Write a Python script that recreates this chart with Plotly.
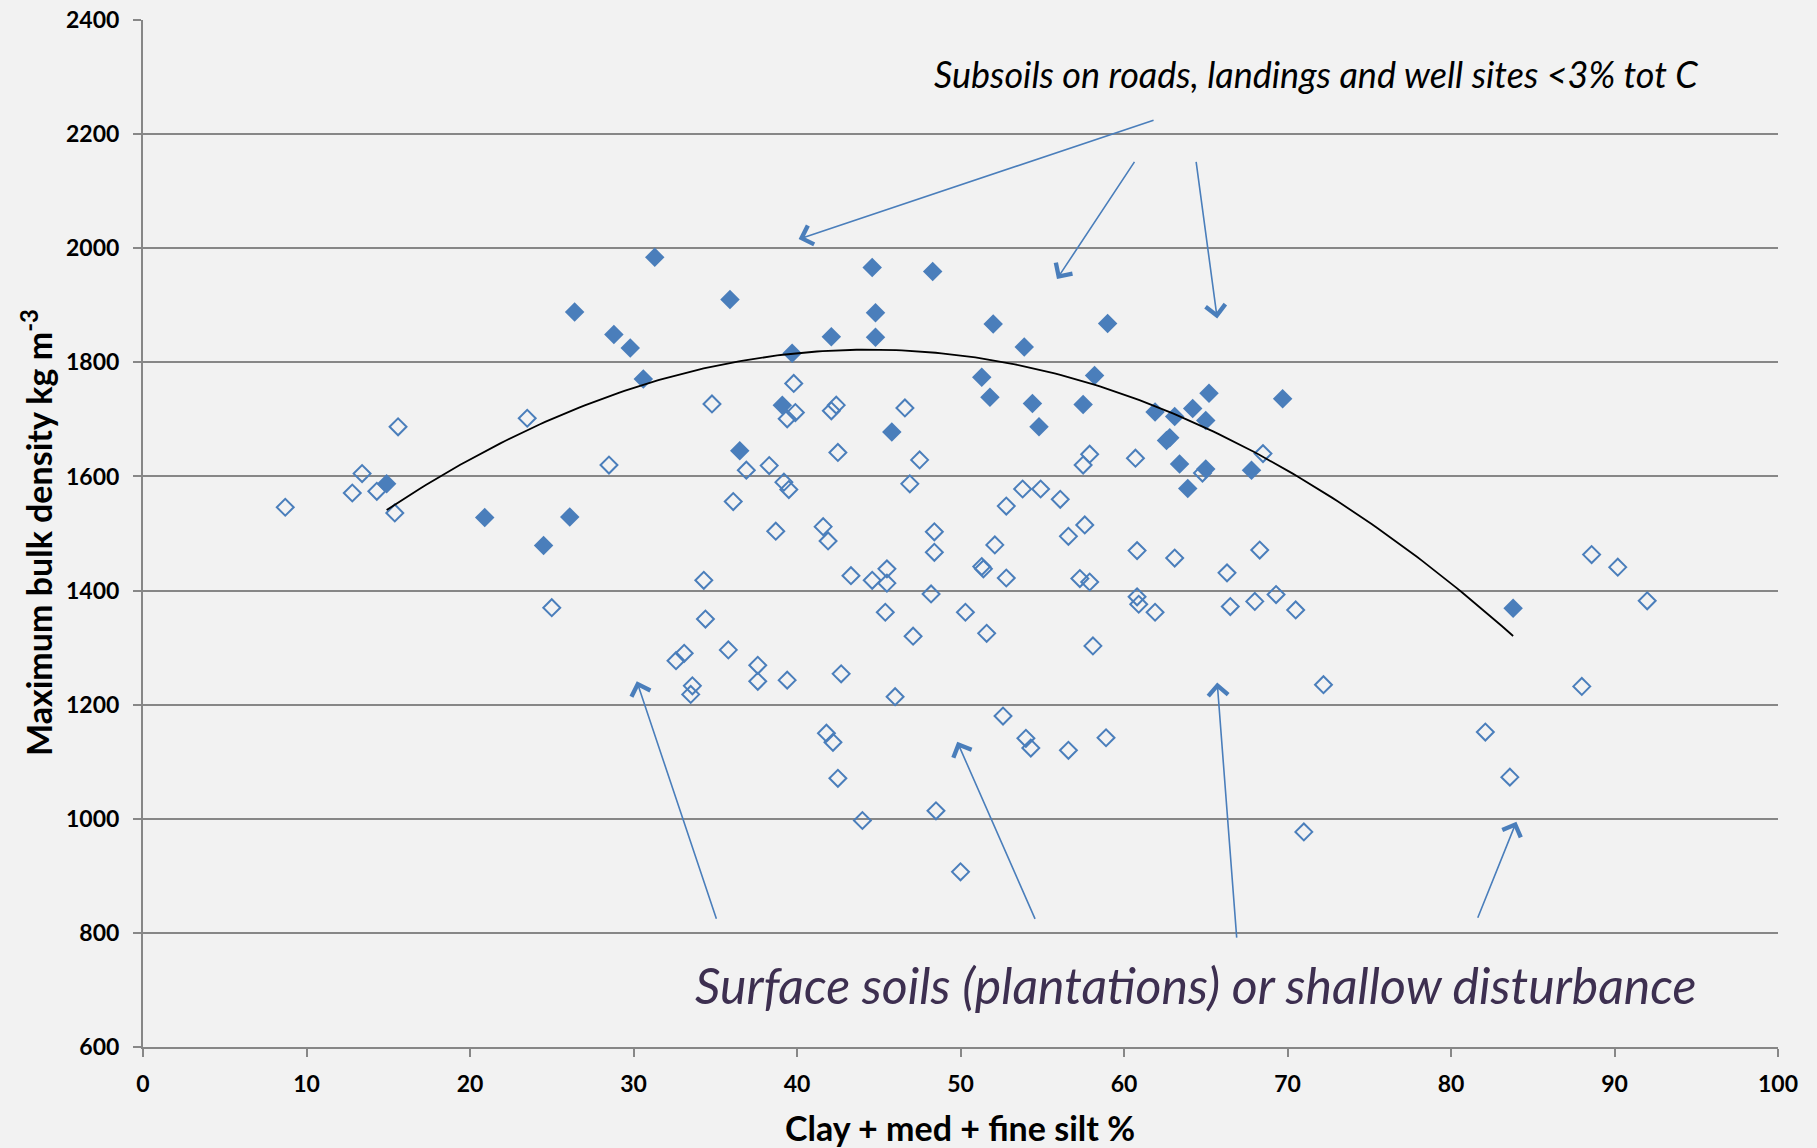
import numpy as np
import plotly.graph_objects as go

# Surface soils (plantations) or shallow disturbance: open diamonds
surface_fines = [8.7, 12.8, 13.4, 14.3, 15.4, 15.6, 23.5, 25.0, 28.5,
                 32.6, 33.1, 33.6, 33.5, 34.3, 34.4, 34.8, 35.8, 36.1, 36.9, 37.6, 37.6, 38.3, 38.7,
                 39.2, 39.5, 39.4, 39.4, 39.9, 39.8,
                 41.6, 41.9, 41.8, 42.2, 42.1, 42.4, 42.5, 42.5, 42.7, 43.3, 44.0, 44.6, 45.5, 45.5,
                 45.4, 46.0, 46.6, 46.9, 47.1, 47.5, 48.2, 48.4, 48.4, 48.5,
                 50.0, 50.3, 51.3, 51.4, 51.6, 52.1, 52.6, 52.8, 52.8, 53.8, 54.0, 54.3, 54.9, 56.1,
                 56.6, 56.6, 57.3, 57.6, 57.5, 57.9, 57.9, 58.1, 58.9,
                 60.7, 60.8, 60.8, 60.9, 61.9, 63.1, 64.8, 66.3, 66.5, 68.0, 68.3, 68.5, 69.3, 70.5,
                 71.0, 72.2,
                 82.1, 83.6, 88.0, 88.6, 90.2, 92.0]
surface_density = [1546, 1571, 1605, 1574, 1536, 1687, 1702, 1370, 1620,
                   1277, 1290, 1233, 1218, 1418, 1350, 1727, 1296, 1556, 1611, 1269, 1241, 1619, 1504,
                   1590, 1577, 1243, 1701, 1712, 1763,
                   1512, 1487, 1150, 1134, 1715, 1725, 1642, 1071, 1254, 1426, 997, 1418, 1438, 1413,
                   1362, 1214, 1720, 1587, 1320, 1629, 1394, 1503, 1467, 1014,
                   907, 1362, 1442, 1438, 1325, 1480, 1180, 1548, 1422, 1578, 1141, 1124, 1578, 1560,
                   1495, 1120, 1421, 1515, 1620, 1639, 1415, 1303, 1142,
                   1632, 1470, 1389, 1376, 1362, 1457, 1606, 1431, 1372, 1381, 1471, 1640, 1393, 1366,
                   977, 1235,
                   1152, 1073, 1232, 1463, 1441, 1382]

# Subsoils on roads, landings and well sites: filled diamonds
subsoil_fines = [14.9, 20.9, 24.5, 26.1, 26.4, 28.8, 29.8, 30.6, 31.3, 35.9, 36.5, 39.1, 39.7,
                 42.1, 44.6, 44.8, 44.8, 45.8, 48.3, 51.3, 51.8, 52.0, 53.9, 54.4, 54.8, 57.5,
                 58.2, 59.0, 61.9, 62.6, 62.8, 63.1, 63.4, 63.9, 64.2, 65.0, 65.0, 65.2, 67.8,
                 69.7, 83.8]
subsoil_density = [1587, 1528, 1479, 1529, 1888, 1849, 1825, 1771, 1984, 1910, 1645, 1725, 1816,
                   1845, 1966, 1887, 1844, 1678, 1959, 1774, 1739, 1867, 1827, 1728, 1687, 1726,
                   1777, 1868, 1713, 1663, 1668, 1705, 1622, 1579, 1719, 1613, 1698, 1746, 1611,
                   1736, 1369]

x_ticks = list(range(0, 101, 10))
y_ticks = list(range(600, 2401, 200))

BLUE = "#4a7ebb"
GRID = "#878787"
BG = "#f2f2f2"
FONT = "Lato, Open Sans, sans-serif"

# second-order polynomial trend through the subsoil series
coef = np.polyfit(subsoil_fines, subsoil_density, 2)
trend_x = np.linspace(min(subsoil_fines), max(subsoil_fines), 200)
trend_y = np.polyval(coef, trend_x)

fig = go.Figure()
fig.add_trace(go.Scatter(
    x=subsoil_fines, y=subsoil_density, mode="markers",
    marker=dict(symbol="diamond", size=15, color=BLUE, line=dict(width=0)),
    name="Subsoils"))
fig.add_trace(go.Scatter(
    x=surface_fines, y=surface_density, mode="markers",
    marker=dict(symbol="diamond-open", size=13, color=BLUE, line=dict(width=2, color=BLUE)),
    name="Surface soils"))
fig.add_trace(go.Scatter(
    x=trend_x, y=trend_y, mode="lines",
    line=dict(color="black", width=1.8), name="Trend", hoverinfo="skip"))

tick_font = dict(family=FONT, size=23, color="black", weight="bold")
title_font = dict(family=FONT, size=34, color="black", weight="bold")

fig.update_xaxes(
    range=[0, 100], tickvals=x_ticks, showgrid=False, zeroline=False,
    showline=True, linecolor=GRID, linewidth=2,
    ticks="outside", ticklen=8, tickwidth=1.5, tickcolor=GRID,
    tickfont=tick_font, ticklabelstandoff=7, automargin=False)
fig.update_yaxes(
    range=[600, 2400], tickvals=y_ticks, showgrid=True, gridcolor=GRID, gridwidth=1.5,
    zeroline=False, showline=True, linecolor=GRID, linewidth=2,
    ticks="outside", ticklen=8, tickwidth=1.5, tickcolor=GRID,
    tickfont=tick_font, ticklabelstandoff=9, automargin=False)

PLOT_L, PLOT_T, PLOT_W, PLOT_H = 143, 20, 1635, 1027


def px_to_paper(px, py):
    return (px - PLOT_L) / PLOT_W, 1 - (py - PLOT_T) / PLOT_H


annotations = []

# axis titles
tx, ty = px_to_paper(960, 1127)
annotations.append(dict(
    x=tx, y=ty, xref="paper", yref="paper", text="Clay + med + fine silt %",
    showarrow=False, xanchor="center", yanchor="middle", font=title_font))
tx, ty = px_to_paper(37, 533)
annotations.append(dict(
    x=tx, y=ty, xref="paper", yref="paper", text="Maximum bulk density kg m<sup>-3</sup>",
    textangle=-90, showarrow=False, xanchor="center", yanchor="middle", font=title_font))

# group labels
tx, ty = px_to_paper(1316, 74)
annotations.append(dict(
    x=tx, y=ty, xref="paper", yref="paper",
    text="<i>Subsoils on roads, landings and well sites &lt;3% tot C</i>",
    showarrow=False, xanchor="center", yanchor="middle",
    font=dict(family=FONT, size=36, color="black")))
tx, ty = px_to_paper(1196, 985)
annotations.append(dict(
    x=tx, y=ty, xref="paper", yref="paper",
    text="<i>Surface soils (plantations) or shallow disturbance</i>",
    showarrow=False, xanchor="center", yanchor="middle",
    font=dict(family=FONT, size=50, color="#3d2f50")))

# pointer arrows: (tail x, tail y, head x, head y) in data units
arrows = [
    (61.9, 2225, 40.1, 2016),
    (60.7, 2154, 55.9, 1946),
    (64.4, 2154, 65.7, 1877),
    (35.1, 822, 30.2, 1241),
    (54.6, 822, 49.8, 1135),
    (66.9, 789, 65.7, 1239),
    (81.6, 824, 84.0, 995),
]
for ax_, ay_, hx, hy in arrows:
    annotations.append(dict(
        x=hx, y=hy, ax=ax_, ay=ay_, xref="x", yref="y", axref="x", ayref="y",
        text="", showarrow=True, arrowhead=4, arrowsize=2.4, arrowwidth=1.6,
        arrowcolor=BLUE, standoff=0, startstandoff=0))

fig.update_layout(
    width=1817, height=1148,
    margin=dict(l=PLOT_L, r=1817 - PLOT_L - PLOT_W, t=PLOT_T, b=1148 - PLOT_T - PLOT_H,
                autoexpand=False),
    paper_bgcolor=BG, plot_bgcolor=BG,
    showlegend=False,
    annotations=annotations,
)

fig.write_html("out.html")
